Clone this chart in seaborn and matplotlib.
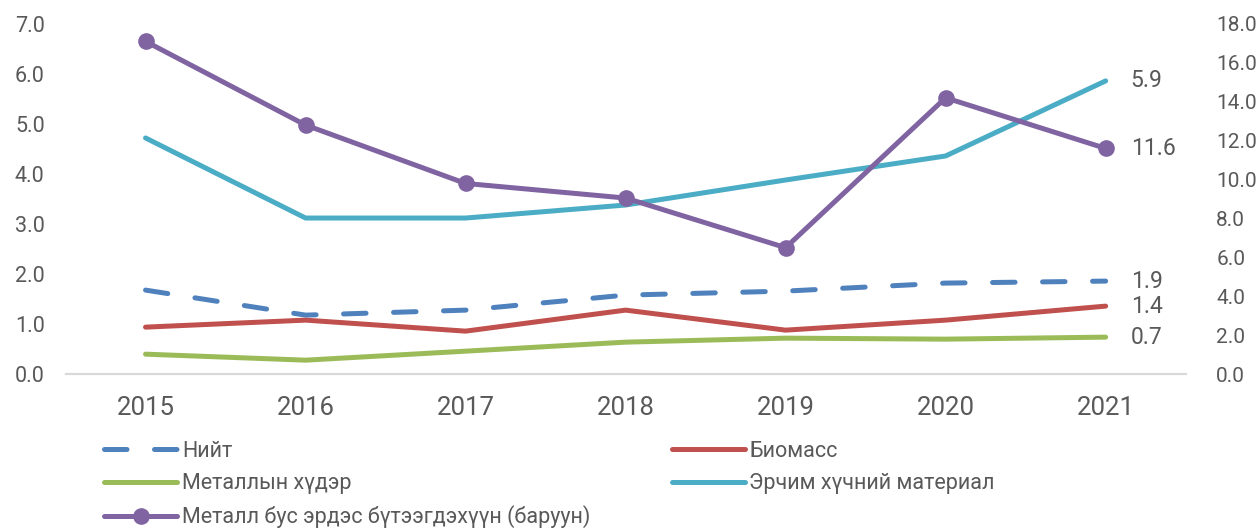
import pandas as pd
import matplotlib
matplotlib.use('Agg')
import matplotlib.pyplot as plt
import seaborn as sns

years = [2015, 2016, 2017, 2018, 2019, 2020, 2021]
niit = [1.68, 1.18, 1.28, 1.58, 1.66, 1.82, 1.86]
biomass = [0.94, 1.08, 0.86, 1.28, 0.88, 1.08, 1.36]
metal_ore = [0.40, 0.28, 0.46, 0.64, 0.72, 0.70, 0.74]
energy = [4.72, 3.12, 3.12, 3.38, 3.88, 4.36, 5.86]
nonmetal = [17.1, 12.8, 9.8, 9.05, 6.5, 14.2, 11.6]

names = ['Нийт', 'Биомасс', 'Металлын хүдэр', 'Эрчим хүчний материал',
         'Металл бус эрдэс бүтээгдэхүүн (баруун)']
colors = ['#4F81BD', '#C0504D', '#9BBB59', '#4BACC6', '#8064A2']

sns.set_style('white')
plt.rcParams['font.family'] = ['Roboto', 'DejaVu Sans']
grey = '#595959'

fig = plt.figure(figsize=(12.6, 5.3), dpi=100)
ax = fig.add_axes([0.052, 0.294, 0.889, 0.661])
ax2 = ax.twinx()

x = list(range(len(years)))
left_series = [niit, biomass, metal_ore, energy]
handles = []
for vals, name, col in zip(left_series, names[:4], colors[:4]):
    df = pd.DataFrame({'x': x, 'y': vals})
    sns.lineplot(data=df, x='x', y='y', ax=ax, color=col, linewidth=3.6,
                 solid_capstyle='round', dash_capstyle='round')
    ln = ax.lines[-1]
    if name == 'Нийт':
        ln.set_dashes((4.5, 5.5))
    ln.set_label(name)
    handles.append(ln)
    ax.annotate(f'{vals[-1]:.1f}', (x[-1], vals[-1]), xytext=(18, 0),
                textcoords='offset points', va='center', ha='left',
                fontsize=16.5, color=grey)

df = pd.DataFrame({'x': x, 'y': nonmetal})
sns.lineplot(data=df, x='x', y='y', ax=ax2, color=colors[4], linewidth=3.6,
             marker='o', markersize=12, markeredgewidth=0, solid_capstyle='round')
ln = ax2.lines[-1]
ln.set_label(names[4])
handles.append(ln)
ax2.annotate(f'{nonmetal[-1]:.1f}', (x[-1], nonmetal[-1]), xytext=(18, 0),
             textcoords='offset points', va='center', ha='left',
             fontsize=16.5, color=grey)

ax.set_xlim(-0.5, 6.5)
ax.set_ylim(0, 7)
ax2.set_ylim(0, 18)
ax.set_xticks(x)
ax.set_xticklabels([str(y) for y in years])
ax.set_yticks([i for i in range(8)])
ax.set_yticklabels([f'{i:.1f}' for i in range(8)])
ax2.set_yticks(list(range(0, 19, 2)))
ax2.set_yticklabels([f'{i:.1f}' for i in range(0, 19, 2)])
ax.set_xlabel('')
ax.set_ylabel('')
ax2.set_ylabel('')

ax.tick_params(axis='x', length=0, pad=16, labelsize=18.5, labelcolor=grey)
ax.tick_params(axis='y', length=0, pad=15, labelsize=15.5, labelcolor=grey)
ax2.tick_params(axis='y', length=0, pad=22, labelsize=15, labelcolor=grey)
for a in (ax, ax2):
    for s in ('left', 'right', 'top'):
        a.spines[s].set_visible(False)
    a.spines['bottom'].set_color('#D9D9D9')
    a.spines['bottom'].set_linewidth(1.5)

order = [handles[0], handles[2], handles[4], handles[1], handles[3]]
ax.legend(handles=order, labels=[h.get_label() for h in order], ncol=2,
          loc='upper left', bbox_to_anchor=(0.025, -0.16), frameon=False,
          fontsize=15.5, handlelength=3.4, handletextpad=0.2, borderpad=0,
          columnspacing=3.8, labelspacing=0.52, labelcolor=grey)

fig.savefig('out.png', dpi=100)
